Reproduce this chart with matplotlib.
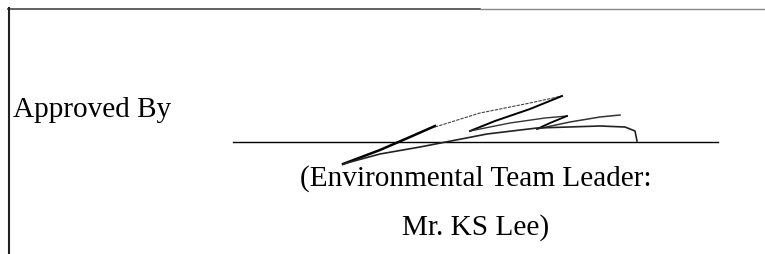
import matplotlib.pyplot as plt

# text lines (x, baseline y in pixels, text)
labels = ["Approved By", "(Environmental Team Leader:", "Mr. KS Lee)"]
label_x = [13, 476, 476]
label_y = [117, 186, 235]
label_ha = ["left", "center", "center"]

# signature line
sign_x = [233, 718]
sign_y = [142.5, 142.5]

# signature strokes (pixel coords)
stroke1_x = [343, 380, 410, 435]
stroke1_y = [165, 151, 138, 127]
stroke2_x = [435, 480, 530, 562]
stroke2_y = [128, 114, 104, 97]
stroke3_x = [562, 530, 495, 470]
stroke3_y = [97, 110, 122, 132]
stroke4_x = [470, 510, 545, 567]
stroke4_y = [132, 124, 119, 117]
stroke5_x = [567, 550, 537]
stroke5_y = [117, 124, 130]
stroke6_x = [537, 570, 600, 620]
stroke6_y = [130, 123, 118, 116]
stroke7_x = [343, 380, 420, 487, 537, 600, 625, 635, 637]
stroke7_y = [165, 155, 148, 135, 129, 127, 128, 132, 142]

fig = plt.figure(figsize=(7.65, 2.55), dpi=100)
ax = fig.add_axes([0, 0, 1, 1])
ax.set_xlim(0, 765)
ax.set_ylim(255, 0)
ax.axis('off')

# page borders
ax.plot([8, 480], [9.5, 9.5], color='#555555', lw=1.3)
ax.plot([480, 765], [9.5, 9.5], color='#888888', lw=1.0)
ax.plot([9, 9], [9, 255], color='#222222', lw=1.5)

for t, x, y, ha in zip(labels, label_x, label_y, label_ha):
    ax.text(x, y, t, fontsize=21.1, family='Liberation Serif',
            ha=ha, va='baseline', color='black')

ax.plot(sign_x, sign_y, color='black', lw=1.0)

ax.plot(stroke1_x, stroke1_y, color='black', lw=1.8)
ax.plot(stroke2_x, stroke2_y, color='#444444', lw=0.8, ls=(0, (3, 1)))
ax.plot(stroke3_x, stroke3_y, color='black', lw=1.4)
ax.plot(stroke4_x, stroke4_y, color='#333333', lw=1.0)
ax.plot(stroke5_x, stroke5_y, color='black', lw=1.3)
ax.plot(stroke6_x, stroke6_y, color='#333333', lw=1.1)
ax.plot(stroke7_x, stroke7_y, color='#222222', lw=1.2)

fig.savefig('out.png', dpi=100, facecolor='white')
